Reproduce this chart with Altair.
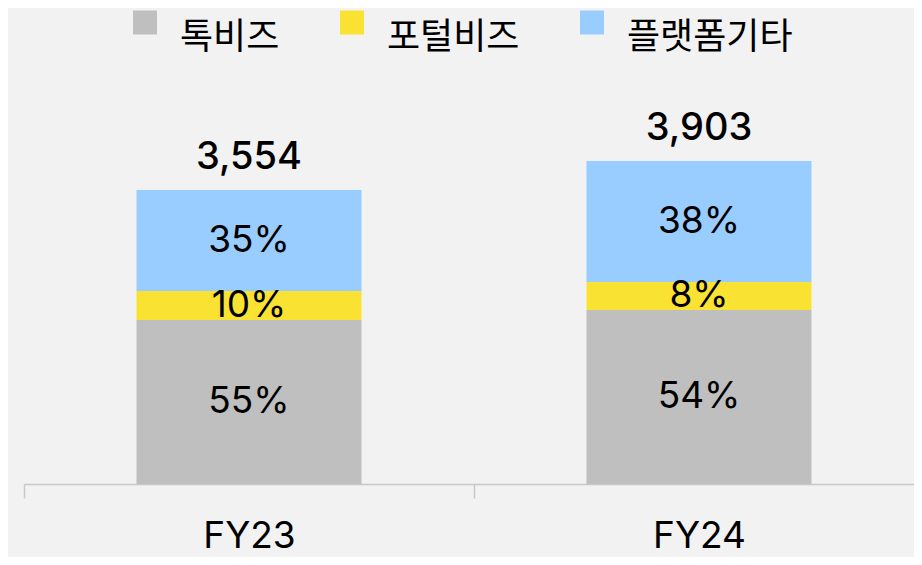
import altair as alt
import pandas as pd

years = ["FY23", "FY24"]
totals = [3554, 3903]
segments = ["톡비즈", "포털비즈", "플랫폼기타"]
# segment values
val_talk = [1982, 2103]
val_portal = [350, 338]
val_platform = [1222, 1462]
# printed shares
pct_talk = [55, 54]
pct_portal = [10, 8]
pct_platform = [35, 38]
colors = ["#bfbfbf", "#fae232", "#99ccff"]

rows = []
for i, yr in enumerate(years):
    start = 0.0
    vals = [val_talk[i], val_portal[i], val_platform[i]]
    pcts = [pct_talk[i], pct_portal[i], pct_platform[i]]
    for j, seg in enumerate(segments):
        v = vals[j]
        rows.append({"year": yr, "segment": seg, "order": j, "start": start,
                     "end": start + v, "mid": start + v / 2, "label": f"{pcts[j]}%"})
        start += v
df = pd.DataFrame(rows)
tot_df = pd.DataFrame({"year": years, "total": totals,
                       "label": [f"{t:,}" for t in totals]})

FONT = "Inter"

x_scale = alt.Scale(paddingInner=0, paddingOuter=0, range=[0, 900])
x_enc = alt.X("year:N", sort=years, scale=x_scale,
              axis=alt.Axis(title=None, labelAngle=0, tickBand="extent",
                            tickSize=14, labelPadding=20, labelFontSize=37,
                            labelFont=FONT, labelColor="#000000",
                            domainColor="#c8c8c8", tickColor="#c8c8c8",
                            domainWidth=1.5, tickWidth=1.5, grid=False))
y_scale = alt.Scale(domain=[0, 5754], nice=False)

bars = alt.Chart(df).mark_bar(width=alt.RelativeBandSize(0.5)).encode(
    x=x_enc,
    y=alt.Y("start:Q", scale=y_scale, axis=None),
    y2="end:Q",
    color=alt.Color("segment:N", sort=segments,
                    scale=alt.Scale(domain=segments, range=colors),
                    legend=alt.Legend(title=None, orient="none", direction="horizontal",
                                      legendX=103, legendY=12, padding=0,
                                      symbolType="M-1,-2.29H1V-0.29H-1Z",
                                      symbolSize=576, symbolStrokeWidth=0,
                                      symbolOpacity=1,
                                      labelFont="Noto Sans CJK KR", labelFontSize=36,
                                      labelColor="#000000", labelOffset=17,
                                      columnPadding=54, labelLimit=400)),
    order="order:Q",
)

pct_text = alt.Chart(df).mark_text(font=FONT, fontSize=37, color="#000000",
                                   baseline="middle").encode(
    x=alt.X("year:N", sort=years, scale=x_scale),
    y=alt.Y("mid:Q", scale=y_scale),
    text="label:N",
)

tot_text = alt.Chart(tot_df).mark_text(font=FONT, fontSize=38, fontWeight=500,
                                       color="#000000", baseline="middle", dy=-32).encode(
    x=alt.X("year:N", sort=years, scale=x_scale),
    y=alt.Y("total:Q", scale=y_scale),
    text="label:N",
)

chart = alt.layer(bars, pct_text, tot_text).properties(
    width=890, height=476,
    autosize=alt.AutoSizeParams(type="none"),
    padding={"left": 16, "top": 0, "right": 0, "bottom": 73},
    background="#f2f2f2",
).configure_view(stroke=None)

chart.save("out.html", embed_options={"renderer": "svg", "actions": False})
